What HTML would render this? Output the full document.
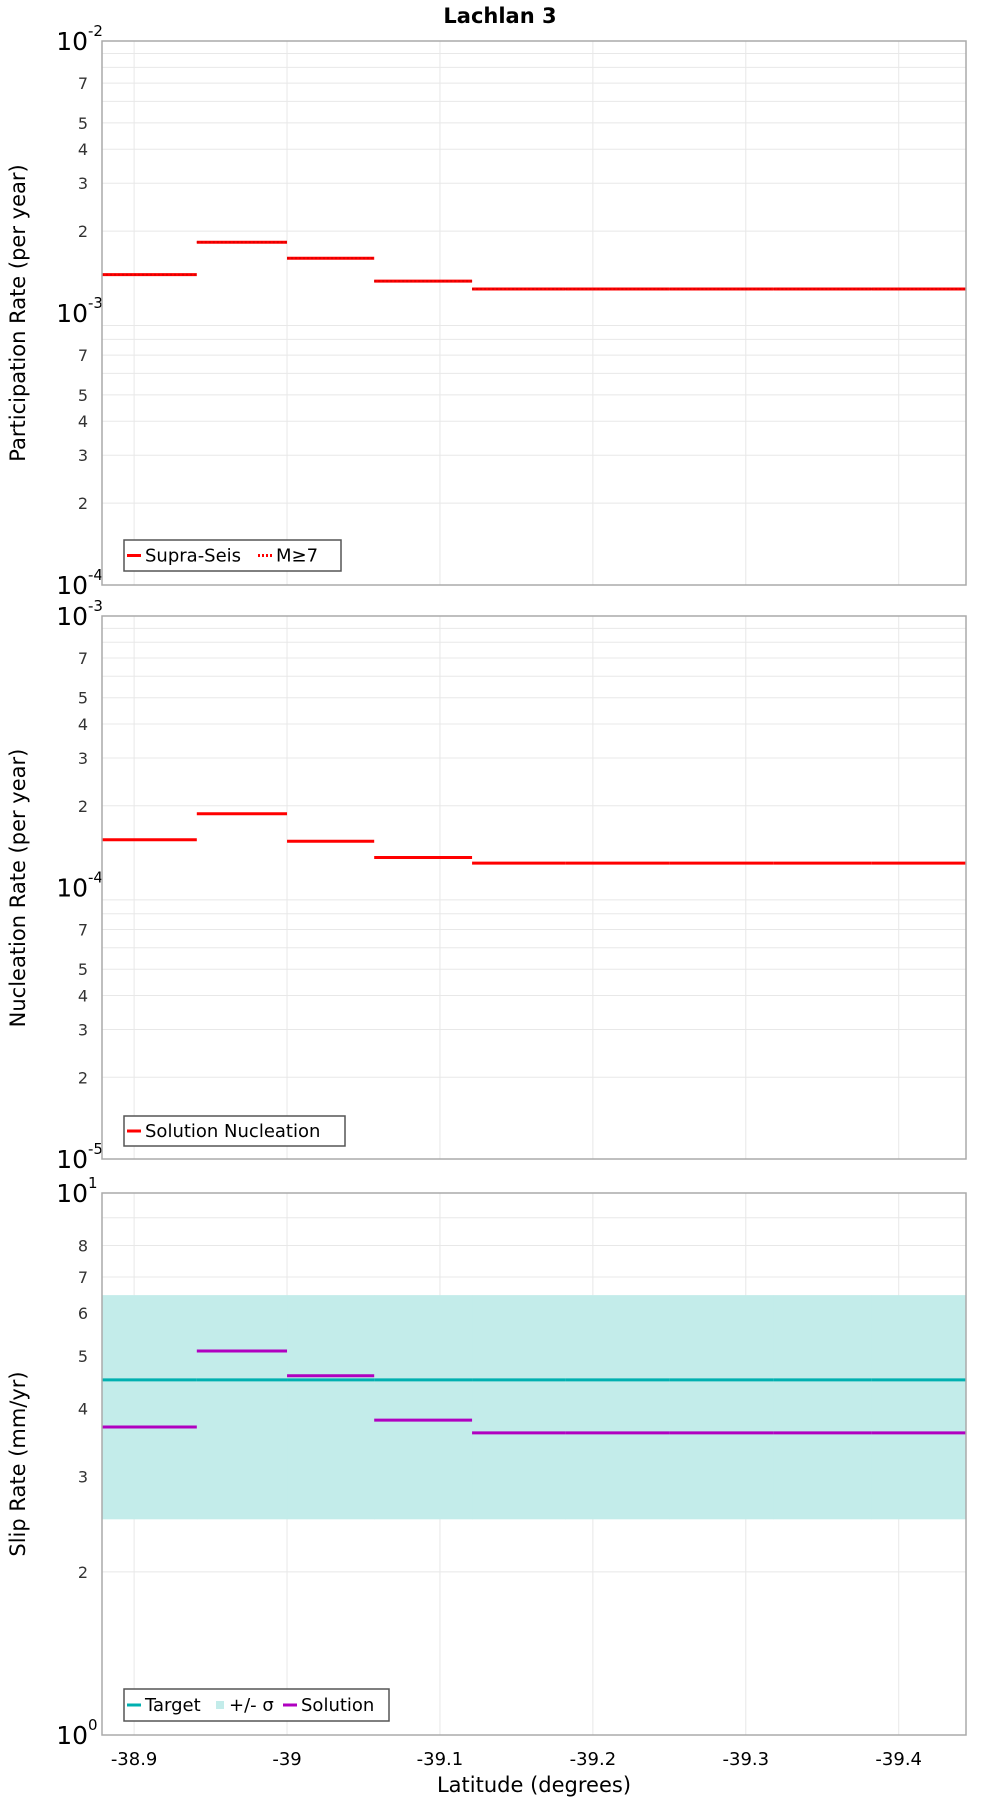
<!DOCTYPE html>
<html><head><meta charset="utf-8"><style>
html,body{margin:0;padding:0;background:#fff;}
svg{display:block;font-family:"DejaVu Sans","Liberation Sans",sans-serif;}
</style></head><body>
<svg id="chart" width="1000" height="1800" viewBox="0 0 1000 1800" xmlns="http://www.w3.org/2000/svg">
<text x="500" y="23" text-anchor="middle" font-size="21" font-weight="bold" fill="#000">Lachlan 3</text>
<text x="534" y="1792" text-anchor="middle" font-size="21" fill="#000">Latitude (degrees)</text>
</svg>
<script>
// Segment boundaries (latitude)
const segBounds = [-38.879, -38.941, -39.0, -39.057, -39.121, -39.182, -39.25, -39.318, -39.382, -39.444];
const partValues = [1.384e-3, 1.82e-3, 1.59e-3, 1.31e-3, 1.225e-3, 1.225e-3, 1.225e-3, 1.225e-3, 1.225e-3];
const partM7Values = [1.384e-3, 1.82e-3, 1.59e-3, 1.31e-3, 1.225e-3, 1.225e-3, 1.225e-3, 1.225e-3, 1.225e-3];
const nuclValues = [1.50e-4, 1.87e-4, 1.48e-4, 1.29e-4, 1.23e-4, 1.23e-4, 1.23e-4, 1.23e-4, 1.23e-4];
const slipTarget = [4.52, 4.52, 4.52, 4.52, 4.52, 4.52, 4.52, 4.52, 4.52];
const slipSigmaLow = [2.5, 2.5, 2.5, 2.5, 2.5, 2.5, 2.5, 2.5, 2.5];
const slipSigmaHigh = [6.48, 6.48, 6.48, 6.48, 6.48, 6.48, 6.48, 6.48, 6.48];
const slipSolution = [3.70, 5.11, 4.60, 3.81, 3.61, 3.61, 3.61, 3.61, 3.61];
const xTicks = [-38.9, -39.0, -39.1, -39.2, -39.3, -39.4];
const xTickLabels = ["-38.9", "-39", "-39.1", "-39.2", "-39.3", "-39.4"];

const NS = "http://www.w3.org/2000/svg";
const svg = document.getElementById('chart');
const X0 = 102, X1 = 966, LAT0 = -38.879, LAT1 = -39.444;
function xs(lat){ return X0 + (lat - LAT0) / (LAT1 - LAT0) * (X1 - X0); }
function mk(tag, attrs, parent){
  const e = document.createElementNS(NS, tag);
  for (const k in attrs) e.setAttribute(k, attrs[k]);
  (parent || svg).appendChild(e);
  return e;
}
function logScale(top, bot, dmin, dmax){
  return v => bot - (Math.log10(v) - dmin) / (dmax - dmin) * (bot - top);
}

function panel(name, top, bot, dmin, dmax, minorLabels, ytitle, ytitleY){
  const y = logScale(top, bot, dmin, dmax);
  const g = mk('g', {});
  
  
  // horizontal grid
  for (let d = dmin; d < dmax; d++) {
    for (let m = 1; m <= 9; m++) {
      const v = m * Math.pow(10, d);
      const yy = y(v);
      if (m > 1) {
        const gl = mk('line', {x1: X0, x2: X1, y1: yy, y2: yy, stroke: '#e8e8e8', 'stroke-width': 1}, g);
        
        
        if (minorLabels.indexOf(m) >= 0) {
          const t = mk('text', {x: 88, y: yy + 6, 'text-anchor': 'end', 'font-size': 16, fill: '#333'}, g);
          
          
          t.textContent = String(m);
        }
      }
    }
  }
  // vertical grid
  xTicks.forEach(v => {
    const gl = mk('line', {x1: xs(v), x2: xs(v), y1: top, y2: bot, stroke: '#e8e8e8', 'stroke-width': 1}, g);
    
    
  });
  // decade labels
  for (let d = dmin; d <= dmax; d++) {
    const yy = y(Math.pow(10, d));
    const t = mk('text', {x: 88, y: yy + 9, 'text-anchor': 'end', 'font-size': 25, fill: '#000'}, g);
    
    
    t.textContent = '10';
    const e = mk('text', {x: 88, y: yy - 5, 'text-anchor': 'start', 'font-size': 15, fill: '#000'}, g);
    
    
    e.textContent = String(d);
  }
  // y title
  const yt = mk('text', {x: 0, y: 0, 'text-anchor': 'middle', 'font-size': 21, fill: '#000',
    transform: 'translate(25,' + ytitleY + ') rotate(-90)'}, g);
  
  
  yt.textContent = ytitle;
  return {y, g, top, bot};
}

function frame(p){
  const r = mk('rect', {x: X0, y: p.top, width: X1 - X0, height: p.bot - p.top, fill: 'none', stroke: '#aaa', 'stroke-width': 1.5});
  
  
}

function steps(p, vals, color, width, dash, name){
  for (let i = 0; i < vals.length; i++) {
    const a = {x1: xs(segBounds[i]), x2: xs(segBounds[i+1]), y1: p.y(vals[i]), y2: p.y(vals[i]), stroke: color, 'stroke-width': width};
    if (dash) a['stroke-dasharray'] = dash;
    const l = mk('line', a);
    
    
  }
}

function legend(x, y, w, h, items){
  const g = mk('g', {});
  
  
  const r = mk('rect', {x: x, y: y, width: w, height: h, fill: '#fff', stroke: '#555', 'stroke-width': 1.5}, g);
  
  
  items.forEach(it => {
    if (it.type === 'line') {
      const a = {x1: it.x, x2: it.x + 14, y1: y + h/2, y2: y + h/2, stroke: it.color, 'stroke-width': 3};
      if (it.dash) a['stroke-dasharray'] = it.dash;
      const l = mk('line', a, g);
      
      
    } else {
      const s = mk('rect', {x: it.x, y: y + h/2 - 4, width: 8, height: 8, fill: it.color}, g);
      
      
    }
    const t = mk('text', {x: it.tx, y: y + h/2 + 6, 'font-size': 18, fill: '#000'}, g);
    
    
    t.textContent = it.label;
  });
}

// Panel 1
const p1 = panel('participation', 41, 585, -4, -2, [2,3,4,5,7], 'Participation Rate (per year)', 313);
steps(p1, partValues, '#ff0000', 3, null, 'supra-seis-step');
steps(p1, partM7Values, '#e00000', 2, '2,2', 'm7-step');
frame(p1);
legend(124, 540, 217, 31, [
  {type:'line', color:'#ff0000', x:127, tx:145, label:'Supra-Seis'},
  {type:'line', color:'#ff0000', dash:'2,2', x:258, tx:276, label:'M\u22657'}
]);

// Panel 2
const p2 = panel('nucleation', 616, 1159, -5, -3, [2,3,4,5,7], 'Nucleation Rate (per year)', 888);
steps(p2, nuclValues, '#ff0000', 3, null, 'nucleation-step');
frame(p2);
legend(124, 1116, 221, 30, [
  {type:'line', color:'#ff0000', x:127, tx:145, label:'Solution Nucleation'}
]);

// Panel 3
const p3 = panel('slip', 1193, 1735, 0, 1, [2,3,4,5,6,7,8], 'Slip Rate (mm/yr)', 1464);
for (let i = 0; i < slipSigmaLow.length; i++) {
  const x1 = xs(segBounds[i]), x2 = xs(segBounds[i+1]);
  const yTop = p3.y(slipSigmaHigh[i]), yBot = p3.y(slipSigmaLow[i]);
  const r = mk('rect', {x: x1, y: yTop, width: x2 - x1 + 0.5, height: yBot - yTop, fill: '#c3ecea'});
  
  
}
steps(p3, slipTarget, '#00b0b0', 3, null, 'target-step');
steps(p3, slipSolution, '#b000c0', 3, null, 'solution-step');
frame(p3);
legend(124, 1689, 265, 32, [
  {type:'line', color:'#00b0b0', x:127, tx:145, label:'Target'},
  {type:'rect', color:'#c3ecea', x:216, tx:229, label:'+/- \u03c3'},
  {type:'line', color:'#b000c0', x:283, tx:301, label:'Solution'}
]);

// X tick labels
xTicks.forEach((v, i) => {
  const t = mk('text', {x: xs(v), y: 1765, 'text-anchor': 'middle', 'font-size': 18, fill: '#000'});
  
  
  t.textContent = xTickLabels[i];
});
</script>
</body></html>
